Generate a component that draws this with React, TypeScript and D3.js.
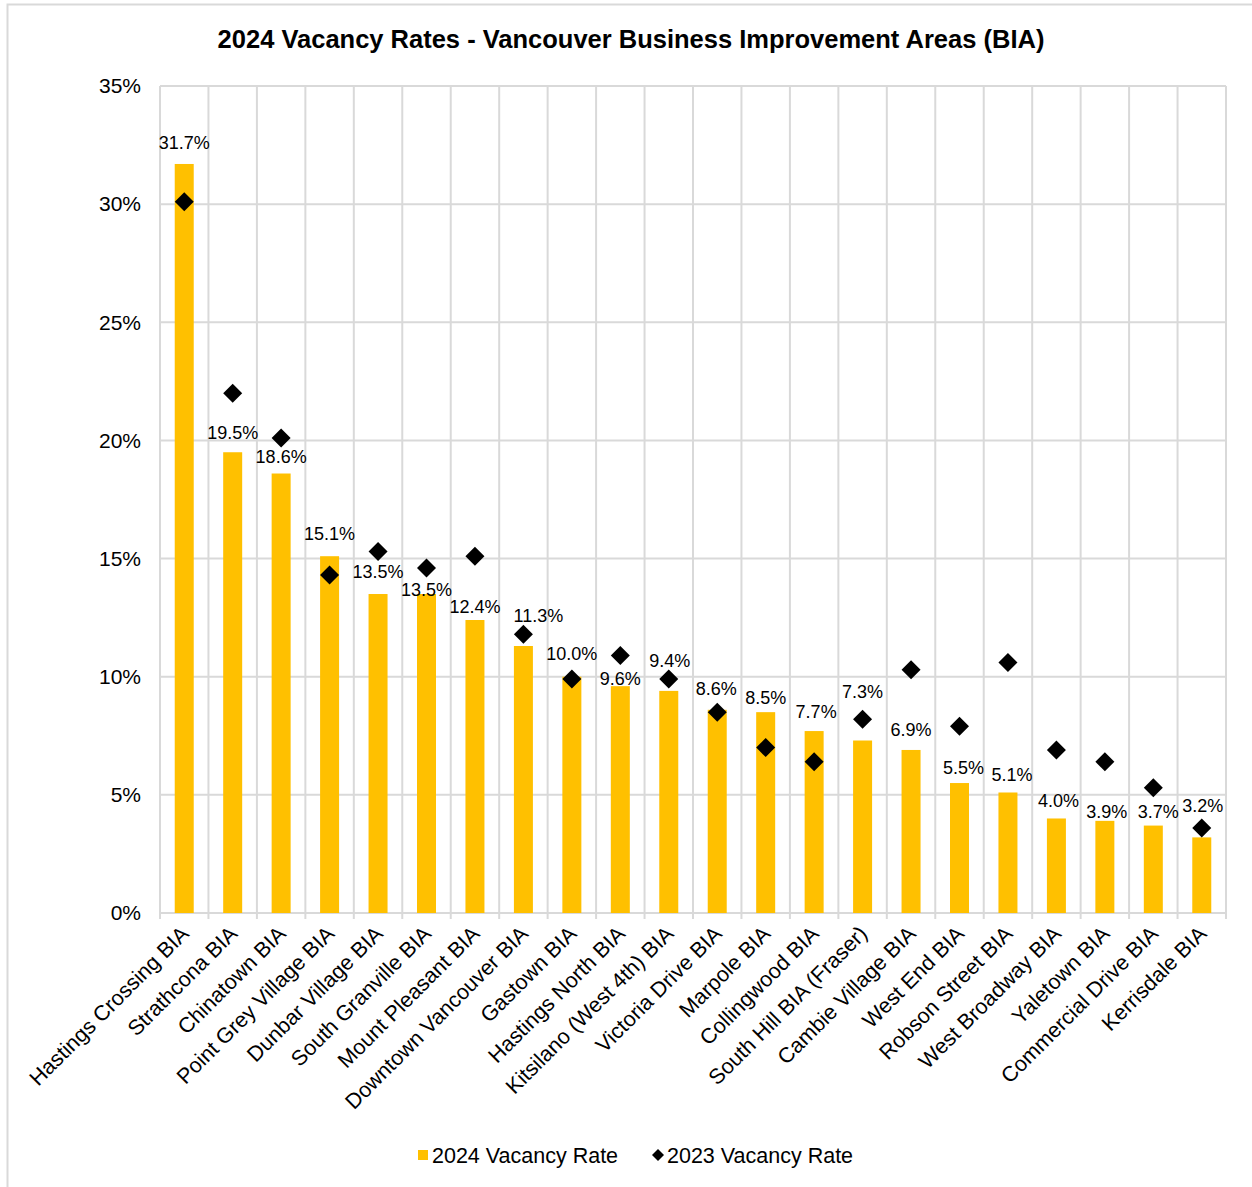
import React, { useEffect, useRef } from 'react';
import * as d3 from 'd3';

const categories = [
  'Hastings Crossing BIA', 'Strathcona BIA', 'Chinatown BIA', 'Point Grey Village BIA',
  'Dunbar Village BIA', 'South Granville BIA', 'Mount Pleasant BIA', 'Downtown Vancouver BIA',
  'Gastown BIA', 'Hastings North BIA', 'Kitsilano (West 4th) BIA', 'Victoria Drive BIA',
  'Marpole BIA', 'Collingwood BIA', 'South Hill BIA (Fraser)', 'Cambie Village BIA',
  'West End BIA', 'Robson Street BIA', 'West Broadway BIA', 'Yaletown BIA',
  'Commercial Drive BIA', 'Kerrisdale BIA',
];
const rate2024 = [31.7, 19.5, 18.6, 15.1, 13.5, 13.5, 12.4, 11.3, 10.0, 9.6, 9.4, 8.6, 8.5, 7.7, 7.3, 6.9, 5.5, 5.1, 4.0, 3.9, 3.7, 3.2];
const rate2023 = [30.1, 22.0, 20.1, 14.3, 15.3, 14.6, 15.1, 11.8, 9.9, 10.9, 9.9, 8.5, 7.0, 6.4, 8.2, 10.3, 7.9, 10.6, 6.9, 6.4, 5.3, 3.6];
const yTicks = [0, 5, 10, 15, 20, 25, 30, 35];

// hand-placed data label nudges (px), like the original chart
const labelNudge = [
  [0, 0], [0, 2], [0, 4.5], [0, -1], [0, -1], [0, 17], [0, 8], [15, -9], [0, -2], [0, 14], [1, -9],
  [-1, 0], [0, 7], [2, 2], [0, -27.5], [0, 1], [4, 6], [4, 3.5], [2, 3.5], [2, 12], [5, 7.5], [1, -10],
];

const App = () => {
  const ref = useRef<SVGSVGElement>(null);

  useEffect(() => {
    const W = 1252, H = 1187;
    const margin = { top: 86, right: 26, bottom: 274, left: 160 };
    const width = W - margin.left - margin.right;
    const height = H - margin.top - margin.bottom;
    const font = 'Liberation Sans, Arial, sans-serif';
    const grid = '#d9d9d9';

    const svg = d3.select(ref.current);
    svg.selectAll('*').remove();
    svg.attr('width', W).attr('height', H).style('font-family', font);

    svg.append('rect')
      .attr('x', 7.5).attr('y', 4.5).attr('width', W).attr('height', H)
      .attr('fill', 'white').attr('stroke', grid).attr('stroke-width', 2);

    svg.append('text')
      .attr('x', 631).attr('y', 48).attr('text-anchor', 'middle')
      .attr('font-size', 25.5).attr('font-weight', 'bold')
      .text('2024 Vacancy Rates - Vancouver Business Improvement Areas (BIA)');

    const g = svg.append('g').attr('transform', `translate(${margin.left},${margin.top})`);

    const x = d3.scaleBand().domain(categories).range([0, width]).paddingInner(0).paddingOuter(0);
    const y = d3.scaleLinear().domain([0, 35]).range([height, 0]);
    const cx = (i: number) => x(categories[i])! + x.bandwidth() / 2;

    // horizontal gridlines
    g.selectAll('.hgrid').data(yTicks).enter().append('line')
      .attr('x1', 0).attr('x2', width)
      .attr('y1', d => y(d)).attr('y2', d => y(d))
      .attr('stroke', grid).attr('stroke-width', 2);

    // vertical gridlines at category boundaries
    const bounds = d3.range(categories.length + 1).map(i => i * x.step());
    g.selectAll('.vgrid').data(bounds).enter().append('line')
      .attr('x1', d => d).attr('x2', d => d)
      .attr('y1', 0).attr('y2', height + 6)
      .attr('stroke', grid).attr('stroke-width', 2);

    // y labels
    g.selectAll('.ylab').data(yTicks).enter().append('text')
      .attr('x', -19).attr('y', d => y(d)).attr('dy', '0.35em')
      .attr('text-anchor', 'end').attr('font-size', 21)
      .text(d => `${d}%`);

    const bw = 19;
    g.selectAll('.bar').data(rate2024).enter().append('rect')
      .attr('x', (d, i) => cx(i) - bw / 2)
      .attr('width', bw)
      .attr('y', d => y(d))
      .attr('height', d => height - y(d))
      .attr('fill', '#ffc000');

    g.selectAll('.dlab').data(rate2024).enter().append('text')
      .attr('x', (d, i) => cx(i) + labelNudge[i][0])
      .attr('y', (d, i) => y(d) - 15 + labelNudge[i][1])
      .attr('text-anchor', 'middle').attr('font-size', 18)
      .text(d => `${d.toFixed(1)}%`);

    const diamond = (r: number) => `M0,${-r}L${r},0L0,${r}L${-r},0Z`;
    g.selectAll('.dot').data(rate2023).enter().append('path')
      .attr('d', diamond(9.5))
      .attr('transform', (d, i) => `translate(${cx(i)},${y(d)})`)
      .attr('fill', 'black');

    // category labels
    g.selectAll('.xlab').data(categories).enter().append('text')
      .attr('transform', (d, i) => `translate(${cx(i) + 6},${height + 22}) rotate(-45)`)
      .attr('text-anchor', 'end').attr('font-size', 21.5)
      .text(d => d);

    // legend
    const leg = svg.append('g').attr('transform', 'translate(0,1155)');
    leg.append('rect').attr('x', 418).attr('y', -5).attr('width', 10).attr('height', 10).attr('fill', '#ffc000');
    leg.append('text').attr('x', 432).attr('y', 0).attr('dy', '0.35em').attr('font-size', 21.5).text('2024 Vacancy Rate');
    leg.append('path').attr('d', diamond(6)).attr('transform', 'translate(658,0)').attr('fill', 'black');
    leg.append('text').attr('x', 667).attr('y', 0).attr('dy', '0.35em').attr('font-size', 21.5).text('2023 Vacancy Rate');
  }, []);

  return (
    <svg ref={ref} style={{ position: 'absolute', left: 0, top: 0, display: 'block' }}></svg>
  );
};

export default App;
